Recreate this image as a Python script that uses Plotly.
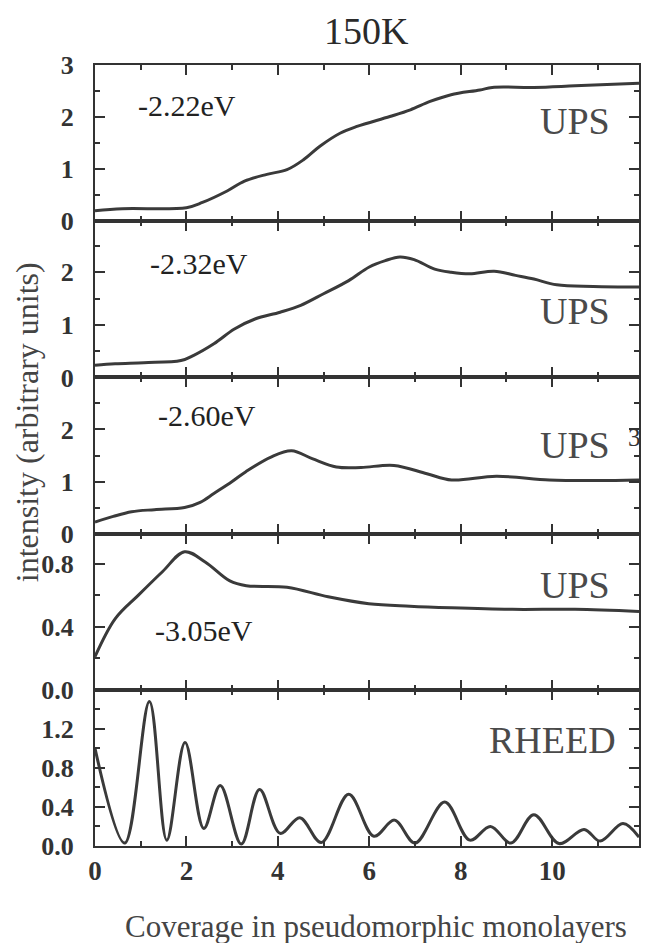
import plotly.graph_objects as go
from plotly.subplots import make_subplots

# ---------------- data ----------------
x_222 = [0, 0.6, 2.0, 2.35, 2.89, 3.27, 3.76, 4.2, 4.56, 4.92, 5.36, 5.73, 6.45, 6.9, 7.33, 7.79, 8.42, 8.69, 9.6, 10.5, 11.9]
y_222 = [0.2, 0.24, 0.26, 0.36, 0.58, 0.77, 0.9, 0.99, 1.18, 1.44, 1.69, 1.82, 2.01, 2.14, 2.3, 2.43, 2.52, 2.57, 2.57, 2.6, 2.65]

x_232 = [0, 0.44, 1.07, 1.88, 2.16, 2.6, 3.05, 3.5, 4.05, 4.5, 5.0, 5.55, 6.0, 6.35, 6.67, 6.98, 7.43, 7.79, 8.2, 8.73, 9.2, 9.6, 10.1, 10.9, 11.9]
y_232 = [0.23, 0.26, 0.28, 0.32, 0.42, 0.64, 0.92, 1.11, 1.24, 1.37, 1.59, 1.84, 2.1, 2.22, 2.29, 2.24, 2.06, 2.0, 1.97, 2.02, 1.94, 1.87, 1.76, 1.73, 1.72]

x_260 = [0, 0.4, 0.8, 1.3, 1.96, 2.3, 2.6, 3.0, 3.3, 3.85, 4.3, 4.75, 5.28, 5.82, 6.54, 7.26, 7.8, 8.78, 9.94, 11.0, 11.9]
y_260 = [0.22, 0.33, 0.42, 0.46, 0.5, 0.6, 0.77, 1.0, 1.19, 1.47, 1.59, 1.44, 1.28, 1.27, 1.31, 1.15, 1.03, 1.1, 1.03, 1.02, 1.03]

x_305 = [0, 0.44, 0.95, 1.48, 1.96, 2.41, 2.95, 3.31, 4.2, 5.1, 5.99, 6.89, 7.79, 9.13, 10.5, 11.9]
y_305 = [0.21, 0.45, 0.6, 0.75, 0.875, 0.81, 0.69, 0.66, 0.65, 0.59, 0.546, 0.53, 0.52, 0.51, 0.51, 0.497]

x_rheed = [0, 0.65, 1.19, 1.57, 1.97, 2.38, 2.74, 3.2, 3.6, 4.05, 4.48, 4.95, 5.55, 6.1, 6.55, 7.0, 7.65, 8.2, 8.65, 9.1, 9.6, 10.15, 10.7, 11.05, 11.55, 11.9]
y_rheed = [1.0, 0.03, 1.48, 0.06, 1.06, 0.18, 0.62, 0.02, 0.58, 0.13, 0.29, 0.035, 0.53, 0.1, 0.265, 0.03, 0.45, 0.06, 0.2, 0.03, 0.32, 0.025, 0.17, 0.05, 0.23, 0.09]

panel_labels = ["-2.22eV", "-2.32eV", "-2.60eV", "-3.05eV"]
method_labels = ["UPS", "UPS", "UPS", "UPS", "RHEED"]

x_ticks = [0, 2, 4, 6, 8, 10]
x_minor = [1, 3, 5, 7, 9, 11]

# per-panel y axis set-up: range, labelled ticks, tick text, minor ticks
y_ranges = [[0, 3.0], [0, 2.97], [0, 3.0], [0, 0.99], [0, 1.6]]
y_tickvals = [[0, 1, 2, 3], [0, 1, 2], [0, 1, 2], [0.0, 0.4, 0.8], [0.0, 0.4, 0.8, 1.2]]
y_ticktext = [["0", "1", "2", "3"], ["0", "1", "2"], ["0", "1", "2"], ["0.0", "0.4", "0.8"], ["0.0", "0.4", "0.8", "1.2"]]
y_minor = [[0.5, 1.5, 2.5], [0.5, 1.5, 2.5], [0.5, 1.5, 2.5], [0.2, 0.6], [0.2, 0.6, 1.0, 1.4]]

# ---------------- figure ----------------
W, H = 645, 943
ML, MR, MT, MB = 95, 4, 65, 97
PW, PH = W - ML - MR, H - MT - MB

def px_x(p):
    return (p - ML) / PW

def px_y(p):
    return (H - MB - p) / PH

INK = "#333333"
LINE = "#3a3a3a"
SERIF = "Liberation Serif"

fig = make_subplots(rows=5, cols=1, shared_xaxes=True, vertical_spacing=0)

series = [(x_222, y_222), (x_232, y_232), (x_260, y_260), (x_305, y_305), (x_rheed, y_rheed)]
for i, (xs, ys) in enumerate(series):
    fig.add_trace(
        go.Scatter(x=xs, y=ys, mode="lines",
                   line=dict(color=LINE, width=3, shape="spline", smoothing=1.0),
                   showlegend=False, hoverinfo="skip"),
        row=i + 1, col=1)

for i in range(5):
    fig.update_yaxes(
        row=i + 1, col=1,
        range=y_ranges[i], tickvals=y_tickvals[i], ticktext=y_ticktext[i],
        ticks="inside", ticklen=10, tickwidth=2, tickcolor=INK,
        minor=dict(tickvals=y_minor[i], ticks="inside", ticklen=5, tickwidth=2, tickcolor=INK),
        showline=True, linewidth=2, linecolor=INK, mirror="ticks",
        showgrid=False, zeroline=False,
        ticklabelstandoff=14,
        tickfont=dict(family=SERIF, size=26, color=INK, weight="bold"))
    fig.update_xaxes(
        row=i + 1, col=1,
        range=[0, 11.9], tickvals=x_ticks,
        ticks="inside", ticklen=10, tickwidth=2, tickcolor=INK,
        minor=dict(tickvals=x_minor, ticks="inside", ticklen=5, tickwidth=2, tickcolor=INK),
        showline=True, linewidth=2, linecolor=INK, mirror="ticks",
        showgrid=False, zeroline=False,
        showticklabels=(i == 4),
        ticklabelstandoff=0,
        tickfont=dict(family=SERIF, size=27, color=INK, weight="bold"))

ann = []
def add(text, xp, yp, size, xanchor="left", color=INK, angle=0):
    ann.append(dict(text=text, x=px_x(xp), y=px_y(yp), xref="paper", yref="paper",
                    showarrow=False, xanchor=xanchor, yanchor="middle", textangle=angle,
                    font=dict(family=SERIF, size=size, color=color)))

add("150K", 367, 31, 38, xanchor="center", color="#2a2a2a")
eV_pos = [(136, 105), (148, 263), (156, 415), (153, 630)]
for t, (xp, yp) in zip(panel_labels, eV_pos):
    add(t, xp, yp, 30, color="#222222")
m_pos = [(614, 121), (614, 311), (614, 445), (614, 585), (620, 740)]
for t, (xp, yp) in zip(method_labels, m_pos):
    add(t, xp, yp, 38, xanchor="right", color="#4a4a4a")
add("3", 628, 437, 25, color="#333333")
add("intensity (arbitrary units)", 27, 422, 32, xanchor="center", color="#444444", angle=-90)
add("Coverage in pseudomorphic monolayers", 377, 926, 31, xanchor="center", color="#444444")

fig.update_layout(
    width=W, height=H,
    margin=dict(l=ML, r=MR, t=MT, b=MB),
    paper_bgcolor="white", plot_bgcolor="white",
    font=dict(family=SERIF),
    annotations=ann,
    showlegend=False)

fig.write_html("out.html")
